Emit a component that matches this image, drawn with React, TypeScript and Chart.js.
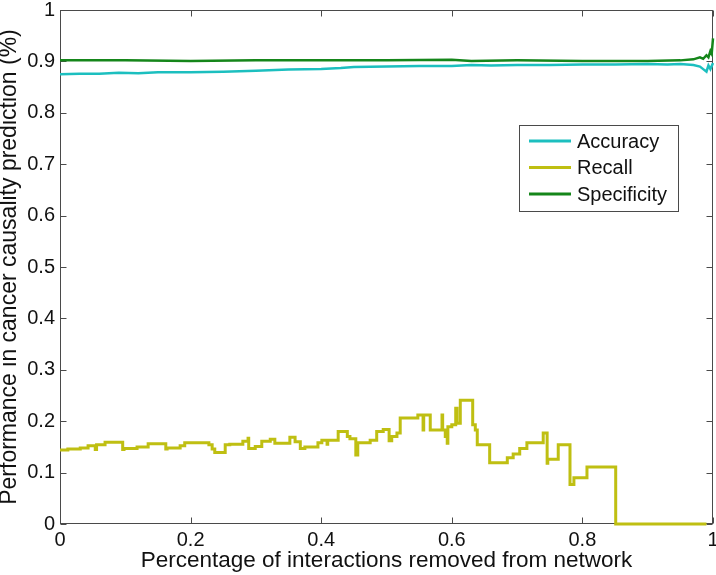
import React, { useEffect, useRef } from "react";
import { Chart, registerables } from "chart.js";

Chart.register(...registerables);

// ---- data ----
const xTickValues = [0, 0.2, 0.4, 0.6, 0.8, 1];
const xTickLabels = ["0", "0.2", "0.4", "0.6", "0.8", "1"];
const yTickValues = [0, 0.1, 0.2, 0.3, 0.4, 0.5, 0.6, 0.7, 0.8, 0.9, 1];
const yTickLabels = ["0", "0.1", "0.2", "0.3", "0.4", "0.5", "0.6", "0.7", "0.8", "0.9", "1"];

const seriesNames = ["Accuracy", "Recall", "Specificity"];
const seriesColors = ["#1cbfbf", "#bfbf12", "#15861a"];

const accuracyX = [0, 0.03, 0.06, 0.09, 0.12, 0.15, 0.2, 0.25, 0.3, 0.35, 0.4, 0.43, 0.45, 0.5, 0.55, 0.6, 0.63, 0.66, 0.7, 0.75, 0.8, 0.85, 0.9, 0.93, 0.95, 0.97, 0.98, 0.985, 0.99, 0.993, 0.996, 1.0];
const accuracyY = [0.875, 0.876, 0.876, 0.878, 0.877, 0.879, 0.879, 0.88, 0.882, 0.884, 0.885, 0.887, 0.889, 0.89, 0.891, 0.891, 0.893, 0.892, 0.893, 0.893, 0.894, 0.894, 0.895, 0.894, 0.895, 0.893, 0.89, 0.885, 0.88, 0.892, 0.885, 0.897];

const specificityX = [0, 0.1, 0.2, 0.3, 0.4, 0.5, 0.6, 0.63, 0.7, 0.8, 0.9, 0.95, 0.97, 0.98, 0.985, 0.99, 0.993, 0.996, 0.998, 1.0];
const specificityY = [0.902, 0.902, 0.901, 0.902, 0.902, 0.902, 0.903, 0.901, 0.902, 0.901, 0.901, 0.902, 0.904, 0.908, 0.905, 0.912, 0.908, 0.92, 0.915, 0.945];

const recallX = [0, 0.012, 0.031, 0.043, 0.054, 0.056, 0.069, 0.096, 0.098, 0.118, 0.135, 0.162, 0.164, 0.184, 0.191, 0.228, 0.233, 0.237, 0.253, 0.26, 0.28, 0.288, 0.289, 0.299, 0.309, 0.322, 0.329, 0.352, 0.36, 0.368, 0.375, 0.395, 0.401, 0.409, 0.41, 0.426, 0.44, 0.444, 0.453, 0.456, 0.475, 0.485, 0.495, 0.504, 0.508, 0.516, 0.521, 0.548, 0.556, 0.557, 0.567, 0.585, 0.586, 0.59, 0.593, 0.594, 0.6, 0.606, 0.608, 0.613, 0.632, 0.636, 0.639, 0.658, 0.685, 0.694, 0.704, 0.715, 0.74, 0.746, 0.747, 0.763, 0.781, 0.787, 0.807, 0.851, 0.99];
const recallY = [0.144, 0.146, 0.148, 0.152, 0.145, 0.154, 0.159, 0.145, 0.147, 0.15, 0.156, 0.146, 0.148, 0.152, 0.158, 0.154, 0.146, 0.139, 0.154, 0.155, 0.161, 0.167, 0.147, 0.151, 0.161, 0.165, 0.157, 0.169, 0.16, 0.147, 0.15, 0.158, 0.163, 0.155, 0.163, 0.18, 0.17, 0.166, 0.134, 0.158, 0.163, 0.18, 0.184, 0.162, 0.17, 0.177, 0.206, 0.212, 0.183, 0.212, 0.183, 0.212, 0.183, 0.17, 0.157, 0.189, 0.193, 0.225, 0.196, 0.241, 0.193, 0.183, 0.154, 0.119, 0.129, 0.136, 0.147, 0.158, 0.177, 0.118, 0.126, 0.154, 0.077, 0.09, 0.111, 0, 0];

const xTitle = "Percentage of interactions removed from network";
const yTitle = "Performance in cancer causality prediction (%)";

const FONT = "'Liberation Sans', Arial, sans-serif";

const toPoints = (xs: number[], ys: number[]) => xs.map((x, i) => ({ x, y: ys[i] }));

const framePlugin = {
  id: "matlabFrame",
  beforeDatasetsDraw(chart: any) {
    const { ctx, chartArea } = chart;
    const xs = chart.scales.x;
    const ys = chart.scales.y;
    const l = Math.round(chartArea.left) + 0.5;
    const r = Math.round(chartArea.right) - 0.5;
    const t = Math.round(chartArea.top) + 0.5;
    const b = Math.round(chartArea.bottom) - 0.5;
    const tl = 6;
    ctx.save();
    ctx.strokeStyle = "#4a4a4a";
    ctx.lineWidth = 1;
    ctx.strokeRect(l, t, r - l, b - t);
    ctx.beginPath();
    xTickValues.forEach((v) => {
      const px = Math.round(xs.getPixelForValue(v)) + 0.5;
      ctx.moveTo(px, b);
      ctx.lineTo(px, b - tl);
      ctx.moveTo(px, t);
      ctx.lineTo(px, t + tl);
    });
    yTickValues.forEach((v) => {
      const py = Math.round(ys.getPixelForValue(v)) + 0.5;
      ctx.moveTo(l, py);
      ctx.lineTo(l + tl, py);
      ctx.moveTo(r, py);
      ctx.lineTo(r - tl, py);
    });
    ctx.stroke();
    ctx.restore();
  },
};

const legendPlugin = {
  id: "matlabLegend",
  afterDraw(chart: any) {
    const { ctx } = chart;
    const bx = 519.5, by = 125.5, bw = 159, bh = 86;
    ctx.save();
    ctx.fillStyle = "#ffffff";
    ctx.fillRect(bx, by, bw, bh);
    ctx.strokeStyle = "#4a4a4a";
    ctx.lineWidth = 1;
    ctx.strokeRect(bx, by, bw, bh);
    ctx.font = `20px ${FONT}`;
    ctx.textBaseline = "middle";
    ctx.textAlign = "left";
    seriesNames.forEach((name, i) => {
      const y = 141 + i * 26.5;
      ctx.strokeStyle = seriesColors[i];
      ctx.lineWidth = 3;
      ctx.beginPath();
      ctx.moveTo(529, y);
      ctx.lineTo(571, y);
      ctx.stroke();
      ctx.fillStyle = "#111111";
      ctx.fillText(name, 577, y + 1);
    });
    ctx.restore();
  },
};

export default function App() {
  const canvasRef = useRef<HTMLCanvasElement | null>(null);

  useEffect(() => {
    if (!canvasRef.current) return;
    const chart = new Chart(canvasRef.current, {
      type: "line",
      data: {
        datasets: [
          {
            label: seriesNames[0],
            data: toPoints(accuracyX, accuracyY),
            borderColor: seriesColors[0],
            borderWidth: 2.5,
            pointRadius: 0,
            tension: 0,
            clip: false as any,
          },
          {
            label: seriesNames[1],
            data: toPoints(recallX, recallY),
            borderColor: seriesColors[1],
            borderWidth: 3,
            pointRadius: 0,
            stepped: true,
            clip: false as any,
          },
          {
            label: seriesNames[2],
            data: toPoints(specificityX, specificityY),
            borderColor: seriesColors[2],
            borderWidth: 2.5,
            pointRadius: 0,
            tension: 0,
            clip: false as any,
          },
        ],
      },
      options: {
        responsive: false,
        animation: false,
        layout: { padding: { left: 0, top: 10, right: 3, bottom: 0 } },
        plugins: {
          legend: { display: false },
          tooltip: { enabled: false },
        },
        scales: {
          x: {
            type: "linear",
            min: 0,
            max: 1,
            grid: { display: false, drawTicks: false },
            border: { display: false },
            afterBuildTicks: (s: any) => {
              s.ticks = xTickValues.map((v) => ({ value: v }));
            },
            afterFit: (s: any) => {
              s.height = 51;
              s.paddingLeft = 0;
              s.paddingRight = 0;
            },
            ticks: {
              padding: 4,
              maxRotation: 0,
              autoSkip: false,
              color: "#111111",
              font: { family: FONT, size: 20 },
              callback: (v: any) => {
                const i = xTickValues.indexOf(Number(v));
                return i >= 0 ? xTickLabels[i] : "";
              },
            },
            title: {
              display: true,
              text: xTitle,
              color: "#111111",
              font: { family: FONT, size: 22.5, lineHeight: 1 },
              padding: { top: 0, bottom: 3 },
            },
          },
          y: {
            type: "linear",
            min: 0,
            max: 1,
            grid: { display: false, drawTicks: false },
            border: { display: false },
            afterBuildTicks: (s: any) => {
              s.ticks = yTickValues.map((v) => ({ value: v }));
            },
            afterFit: (s: any) => {
              s.width = 60;
              s.paddingTop = 0;
              s.paddingBottom = 0;
            },
            ticks: {
              padding: 5,
              autoSkip: false,
              color: "#111111",
              font: { family: FONT, size: 20 },
              callback: (v: any) => {
                const i = yTickValues.findIndex((t) => Math.abs(t - Number(v)) < 1e-9);
                return i >= 0 ? yTickLabels[i] : "";
              },
            },
            title: {
              display: true,
              text: yTitle,
              color: "#111111",
              font: { family: FONT, size: 23, lineHeight: 1 },
              padding: { top: -1.5, bottom: 0 },
            },
          },
        },
      },
      plugins: [framePlugin, legendPlugin],
    });
    return () => chart.destroy();
  }, []);

  return (
    <div style={{ position: "fixed", left: 0, top: 0, width: 716, height: 575, background: "#fff" }}>
      <canvas ref={canvasRef} width={716} height={575} style={{ display: "block" }} />
    </div>
  );
}
